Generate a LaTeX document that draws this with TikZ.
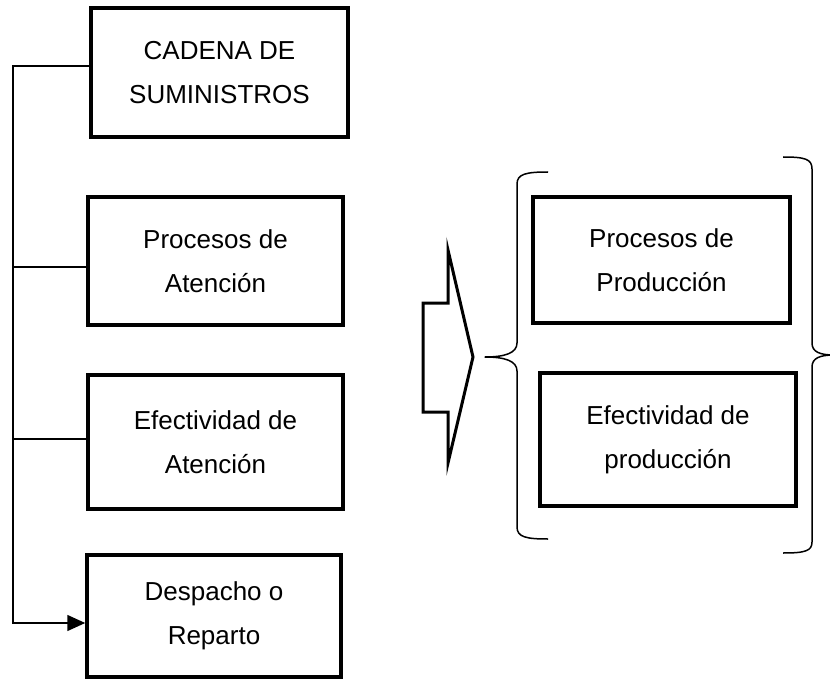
\documentclass[tikz,border=0pt]{standalone}
\usepackage{fontspec}
\setmainfont{Liberation Sans}
\usetikzlibrary{arrows.meta,calc}
\tikzset{
	caja/.style={draw, line width=3.5pt, align=center, inner sep=0pt,
			font=\fontsize{26}{44}\selectfont},
	linea/.style={line width=1.5pt},
	llave/.style={line width=1.5pt, line join=round}
}
\begin{document}
\begin{tikzpicture}[x=1pt,y=-1pt]
		\useasboundingbox (0,0) rectangle (830,679);
		
		% columna izquierda
		\node[caja, minimum width=257pt, minimum height=129pt] (cadena) at (219.5,72.5) {CADENA DE\\SUMINISTROS};
		\node[caja, minimum width=255pt, minimum height=128pt] (procA) at (215.5,261) {Procesos de\\Atenci\'on};
		\node[caja, minimum width=255pt, minimum height=134pt] (efecA) at (215.5,442) {Efectividad de\\Atenci\'on};
		\node[caja, minimum width=254pt, minimum height=122pt] (despacho) at (214,616) {Despacho o\\Reparto};
		
		% columna derecha
		\node[caja, minimum width=257pt, minimum height=126pt] (procP) at (661.5,260) {Procesos de\\Producci\'on};
		\node[caja, minimum width=256pt, minimum height=133pt] (efecP) at (668,439.5) {Efectividad de\\producci\'on};
		
		% conector
		\coordinate (s1) at (13,66);
		\coordinate (s2) at (13,267);
		\coordinate (s3) at (13,439);
		\coordinate (s4) at (13,623);
		\draw[linea, -{Triangle[length=18pt,width=16pt]}] (s1 -| cadena.west) -- (s1) -- (s4) -- (s4 -| despacho.west);
		\draw[linea] (s2) -- (s2 -| procA.west);
		\draw[linea] (s3) -- (s3 -| efecA.west);
		
		% flecha
		\draw[line width=3pt, line join=miter] (423,303) -- (448,303) -- (448,250) -- (473,357)
			-- (448,463) -- (448,412) -- (423,412) -- cycle;
		
		% llaves
		\draw[llave] (548,172) .. controls (526,172) and (517,174) .. (517,184) -- (517,343)
			.. controls (517,353) and (505,357) .. (485,357)
			.. controls (505,357) and (517,361) .. (517,371) -- (517,527)
			.. controls (517,537) and (526,539) .. (548,539);
		\draw[llave] (783,157) .. controls (805,157) and (812,159) .. (812,169) -- (812,343)
			.. controls (812,352) and (820,355) .. (834,355)
			.. controls (820,355) and (812,358) .. (812,367) -- (812,542)
			.. controls (812,551) and (805,553) .. (783,553);
	\end{tikzpicture}
\end{document}
